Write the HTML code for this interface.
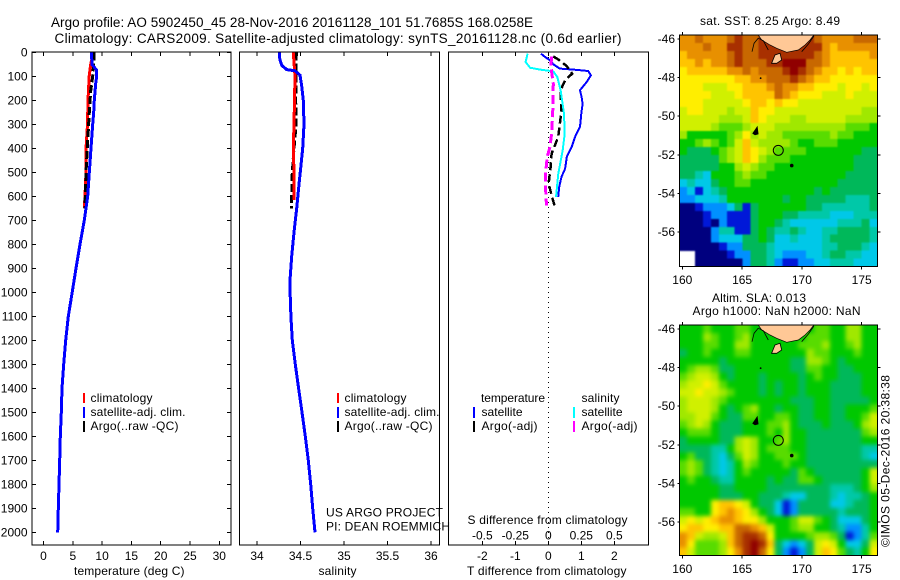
<!DOCTYPE html>
<html>
<head>
<meta charset="utf-8">
<title>Argo profile 5902450_45</title>
<style>
html,body{margin:0;padding:0;background:#fff;}
svg{display:block;}
text{font-family:"Liberation Sans",sans-serif;font-size:12px;fill:#000;}
.title{font-size:13.5px;}
.crisp{shape-rendering:crispEdges;}
</style>
</head>
<body>
<svg id="chart" width="900" height="580" viewBox="0 0 900 580" xmlns="http://www.w3.org/2000/svg">
  <defs>
    <filter id="soft-sst" filterUnits="userSpaceOnUse" x="650" y="0" width="250" height="300" color-interpolation-filters="sRGB"><feGaussianBlur stdDeviation="0.8"/></filter>
    <filter id="soft-sla" filterUnits="userSpaceOnUse" x="650" y="290" width="250" height="290" color-interpolation-filters="sRGB"><feGaussianBlur stdDeviation="2"/></filter>
    <clipPath id="clip-sst-map"><rect x="679.3" y="35" width="198" height="231.7"/></clipPath>
    <clipPath id="clip-sla-map"><rect x="679.3" y="325" width="198" height="230.7"/></clipPath>
  </defs>
  <rect x="0" y="0" width="900" height="580" fill="#fff"/>
  <text class="title" x="51" y="27" textLength="482">Argo profile: AO 5902450_45 28-Nov-2016 20161128_101 51.7685S 168.0258E</text>
  <text class="title" x="54.5" y="43" textLength="567">Climatology: CARS2009. Satellite-adjusted climatology: synTS_20161128.nc (0.6d earlier)</text>

  <g id="maps"></g>
  <g id="panels"></g>

  <text x="74" y="575" textLength="110.5">temperature (deg C)</text>
  <text x="318.5" y="575" textLength="38">salinity</text>
  <text x="467" y="575" textLength="159.5">T difference from climatology</text>
  <text x="467.5" y="524" textLength="160">S difference from climatology</text>

  <g>
    <rect class="crisp" x="83" y="393" width="2" height="10" fill="#ff0000"/>
    <text x="90.5" y="402" textLength="62">climatology</text>
    <rect class="crisp" x="83" y="407" width="2" height="11" fill="#0000ff"/>
    <text x="90.5" y="416" textLength="95">satellite-adj. clim.</text>
    <rect class="crisp" x="83" y="421" width="2" height="11" fill="#000"/>
    <text x="90.5" y="430" textLength="88">Argo(..raw -QC)</text>
  </g>
  <g>
    <rect class="crisp" x="337" y="393" width="2" height="10" fill="#ff0000"/>
    <text x="344.5" y="402" textLength="62">climatology</text>
    <rect class="crisp" x="337" y="407" width="2" height="11" fill="#0000ff"/>
    <text x="344.5" y="416" textLength="95">satellite-adj. clim.</text>
    <rect class="crisp" x="337" y="421" width="2" height="11" fill="#000"/>
    <text x="344.5" y="430" textLength="88">Argo(..raw -QC)</text>
  </g>
  <g>
    <text x="481" y="402" textLength="64">temperature</text>
    <text x="581.5" y="402" textLength="38">salinity</text>
    <rect class="crisp" x="473" y="407" width="2" height="11" fill="#0000ff"/>
    <text x="481.5" y="416" textLength="41">satellite</text>
    <rect class="crisp" x="473" y="421" width="2" height="11" fill="#000"/>
    <text x="481.5" y="430" textLength="56">Argo(-adj)</text>
    <rect class="crisp" x="573" y="407" width="2" height="11" fill="#00ffff"/>
    <text x="581.5" y="416" textLength="41">satellite</text>
    <rect class="crisp" x="573" y="421" width="2" height="11" fill="#ff00ff"/>
    <text x="581.5" y="430" textLength="56">Argo(-adj)</text>
  </g>
  <text x="326" y="516.5" textLength="117">US ARGO PROJECT</text>
  <text x="326" y="530.5" textLength="124">PI: DEAN ROEMMICH</text>

  <text x="770" y="25" text-anchor="middle" textLength="140">sat. SST: 8.25 Argo: 8.49</text>
  <text x="712" y="302" textLength="94">Altim. SLA: 0.013</text>
  <text x="692.5" y="315" textLength="168">Argo h1000: NaN h2000: NaN</text>
  <text transform="translate(889.5,547) rotate(-90)" x="0" y="0" textLength="172">©IMOS 05-Dec-2016 20:38:38</text>
</svg>
<script>
/* ---------- depth axis ---------- */
var depthTicks = [0,100,200,300,400,500,600,700,800,900,1000,1100,1200,1300,1400,1500,1600,1700,1800,1900,2000];

/* ---------- temperature panel ---------- */
var tempTicks = [0,5,10,15,20,25,30];
var tempClimDepth = [0,50,100,200,300,400,500,600,650];
var tempClim = [8.5,8.05,7.8,7.6,7.5,7.25,7.25,7.08,6.97];
var tempArgoDepth = [0,30,100,160,250,400,500,600,650];
var tempArgo = [8.6,8.6,8.4,8.05,7.82,7.48,7.25,7.14,7.05];
var tempSatDepth = [0,50,60,75,100,130,200,250,300,400,500,600,700,800,900,1000,1100,1200,1300,1400,1500,1600,1700,1800,1900,2000];
var tempSat = [8.22,8.25,8.6,9.08,9.08,8.9,8.67,8.56,8.39,8.1,7.82,7.54,6.97,6.23,5.55,4.9,4.23,3.79,3.45,3.16,3.04,2.87,2.76,2.64,2.53,2.42];

/* ---------- salinity panel ---------- */
var salTicks = [34,34.5,35,35.5,36];
var salClimDepth = [0,100,300,400,500,615];
var salClim = [34.417,34.437,34.425,34.417,34.425,34.425];
var salArgoDepth = [0,200,300,400,500,600,650];
var salArgo = [34.452,34.445,34.449,34.425,34.406,34.399,34.395];
var salSatDepth = [0,30,54,72,77,95,140,200,300,400,470,550,650,750,850,950,1000,1100,1200,1300,1400,1500,1600,1700,1800,1900,2000];
var salSat = [34.257,34.262,34.284,34.341,34.437,34.494,34.514,34.532,34.54,34.525,34.506,34.483,34.456,34.425,34.399,34.379,34.38,34.39,34.406,34.44,34.478,34.517,34.555,34.59,34.617,34.64,34.667];

/* ---------- difference panel ---------- */
var tDiffTicks = [-2,-1,0,1,2];
var sDiffTicks = [-0.5,-0.25,0,0.25,0.5];
var sDiffLabels = ['-0.5','-0.25','0','0.25','0.5'];
var tDiffSatDepth = [6,19,33,50,68,72,78,96,124,158,186,214,256,311,353,394,436,485,519,561,603];
var tDiffSat = [-0.22,-0.1,0.05,0.15,0.35,0.76,1.21,1.29,1.16,0.96,1.01,1.04,1,0.96,0.81,0.71,0.56,0.51,0.4,0.33,0.3];
var tDiffArgoDepth = [17,36,58,89,117,158,242,353,422,478,547,596,644];
var tDiffArgo = [0.15,0.37,0.56,0.72,0.51,0.37,0.4,0.3,0.1,0.07,0.01,0.1,0.2];
var sDiffSatDepth = [6,40,64,72,79,103,158,256,339,408,506,603];
var sDiffSat = [-0.157,-0.172,-0.139,-0.063,0.038,0.068,0.093,0.119,0.124,0.109,0.076,0.058];
var sDiffArgoDepth = [17,61,131,256,339,394,436,519,603,638];
var sDiffArgo = [0.025,0.02,0.038,0.033,0.025,0.013,-0.008,-0.023,-0.018,-0.013];

/* ---------- maps: colour level per grid cell, north to south; -1 is no data ---------- */
var lonTicks = [160,165,170,175];
var latTicks = [-46,-48,-50,-52,-54,-56];
var argoLon = 168.0258;
var argoLat = -51.7685;
var sstGrid = [
[12,12,13,12,12,12,13,14,13,13,14,14,14,14,14,14,14,13,12,12,12,12,13,13,13],
[12,12,12,13,12,12,14,14,13,13,14,14,14,14,14,14,14,14,12,11,12,12,12,12,12],
[11,12,12,12,12,12,13,14,13,13,14,14,14,14,14,14,14,13,12,11,11,11,11,11,12],
[11,11,12,11,12,12,13,14,13,13,13,14,14,15,15,15,13,13,12,11,11,11,11,11,11],
[10,11,11,11,11,11,12,12,13,12,13,13,13,14,15,14,13,12,11,11,10,11,10,11,11],
[10,10,10,10,10,10,10,11,11,12,12,13,13,13,14,13,12,11,11,10,10,10,10,10,10],
[10,10,10,9,9,9,10,10,11,11,11,12,13,12,12,11,11,10,10,10,9,10,10,9,10],
[10,10,10,10,9,9,9,10,11,11,11,11,13,12,11,10,10,10,9,9,9,10,9,9,9],
[10,10,10,9,9,9,9,9,10,11,11,10,11,10,10,9,9,9,9,9,9,9,9,9,9],
[9,10,10,9,9,9,8,9,9,11,10,10,9,9,9,9,9,9,9,9,9,9,9,8,8],
[9,9,9,9,9,8,8,8,9,11,10,9,9,9,8,8,9,9,9,9,9,8,8,8,8],
[9,9,9,9,8,7,7,7,8,9,9,9,8,8,8,8,8,8,8,8,8,7,7,7,6],
[8,6,6,6,6,6,7,8,10,8,9,8,8,7,7,7,7,7,7,8,7,7,6,6,6],
[6,6,7,8,7,6,7,9,11,9,8,8,8,8,7,6,6,7,7,7,6,6,6,6,6],
[6,5,5,5,6,7,8,9,11,10,9,8,7,7,7,7,6,6,6,6,6,6,6,5,5],
[5,5,5,5,5,7,8,9,11,10,8,7,7,7,6,6,6,6,6,6,6,6,5,5,5],
[5,5,5,5,5,6,6,8,9,8,7,7,6,6,6,6,6,6,6,6,6,6,5,5,5],
[5,5,4,3,6,6,6,7,8,7,7,6,6,6,6,6,6,6,6,6,6,5,5,5,5],
[3,4,3,3,5,6,6,7,7,6,6,6,6,6,6,6,6,6,6,6,5,5,5,5,5],
[2,3,1,3,4,5,6,6,6,6,6,6,6,6,6,6,6,5,6,5,5,5,5,5,5],
[2,2,3,3,3,4,6,6,6,6,6,6,6,5,6,6,5,5,5,5,5,4,4,4,5],
[0,0,1,2,2,2,3,5,1,5,6,6,6,6,6,6,5,5,4,4,4,4,4,4,5],
[0,0,0,1,2,2,1,1,1,5,6,6,6,5,5,4,4,4,4,3,3,3,4,4,4],
[0,0,0,1,0,2,1,1,1,5,6,6,5,4,3,3,3,3,3,3,4,4,4,5,3],
[0,0,0,0,2,4,4,1,1,5,6,5,4,4,5,4,3,3,4,4,5,5,5,5,4],
[0,0,0,0,2,3,3,3,5,5,6,5,3,3,4,3,3,3,4,5,5,5,5,5,4],
[0,0,0,0,0,1,2,2,5,5,5,4,3,3,3,3,3,3,4,4,5,5,5,4,3],
[-1,-1,0,0,0,0,1,2,2,5,5,4,3,2,2,2,3,3,4,5,5,4,4,3,3],
[-1,-1,0,0,0,0,0,0,2,5,5,4,2,1,1,2,2,3,3,4,4,4,3,3,3]
];
var slaGrid = [
[6,6,6,7,6,6,6,7,7,6,6,6,6,6,6,6,6,7,7,6,6,8,8,6,6],
[6,6,6,8,7,6,6,7,8,6,6,6,6,6,6,6,7,7,7,6,6,8,8,6,6],
[6,6,6,7,7,6,6,8,8,6,6,6,6,6,6,7,7,7,8,6,6,7,8,6,6],
[5,6,6,7,6,6,6,7,7,6,6,6,6,6,6,6,8,7,7,6,6,6,7,6,6],
[6,6,6,6,6,5,6,6,6,6,6,6,6,6,5,5,8,8,7,6,5,6,6,6,6],
[6,7,8,8,7,5,5,6,6,6,6,6,6,6,5,5,7,7,6,6,5,5,6,6,6],
[7,8,9,9,8,6,5,6,6,6,5,6,6,6,6,5,6,7,6,6,5,5,5,6,6],
[8,9,9,10,9,7,6,6,6,6,5,6,5,6,6,5,6,6,6,5,5,5,5,6,6],
[9,9,10,9,9,8,7,6,6,6,5,6,5,6,6,5,6,6,6,5,5,5,5,6,6],
[8,9,9,9,8,7,6,6,6,6,6,6,6,6,5,5,5,6,6,5,5,5,5,5,6],
[8,9,9,9,8,6,5,6,7,8,6,6,5,6,6,5,5,6,6,5,5,6,6,6,7],
[8,8,9,9,7,6,5,5,7,7,6,6,7,7,6,5,5,6,6,5,5,6,6,7,9],
[7,8,9,8,6,5,5,5,6,6,6,7,7,8,6,5,5,5,6,5,5,5,6,8,9],
[6,7,7,7,6,5,5,5,6,6,6,7,6,8,6,6,5,5,5,5,5,5,5,7,8],
[5,6,6,6,6,5,5,8,9,8,6,6,7,8,6,6,5,5,5,5,5,5,5,6,6],
[5,5,5,5,4,4,6,8,9,8,6,7,7,7,6,6,5,5,5,5,5,5,5,4,4],
[6,7,5,5,4,3,5,7,9,8,6,6,7,7,7,6,5,5,5,5,5,5,5,4,3],
[7,8,7,5,4,3,4,6,8,7,6,6,6,7,6,6,5,5,5,5,5,5,5,5,5],
[7,8,7,5,4,3,4,6,7,6,6,6,6,6,5,7,6,5,5,5,5,5,5,6,9],
[6,7,6,6,5,4,4,6,6,6,6,5,6,5,5,7,7,6,5,5,5,5,5,6,9],
[6,6,6,6,6,5,5,6,6,6,6,5,5,5,5,5,5,5,5,4,4,4,5,6,8],
[6,6,6,6,6,5,5,5,6,6,5,5,5,4,3,3,5,5,5,4,3,4,4,5,6],
[6,6,6,6,10,11,11,10,9,6,5,5,3,1,2,5,5,5,5,3,3,4,5,5,6],
[7,7,6,6,10,11,12,11,10,8,6,5,3,1,2,5,5,5,5,5,4,5,5,5,6],
[9,10,9,10,11,12,12,11,10,10,8,6,6,6,7,9,9,7,6,5,3,3,3,5,6],
[10,11,11,10,10,11,11,13,13,12,11,9,6,6,7,8,8,6,6,5,4,2,2,4,6],
[12,11,9,8,8,9,11,13,14,14,13,10,6,6,6,6,7,8,8,7,5,1,2,4,7],
[12,10,7,7,7,8,11,13,14,15,14,11,5,3,2,3,5,9,10,9,6,3,3,5,9],
[11,9,7,7,7,8,10,12,14,15,13,10,5,2,1,2,5,9,11,10,7,5,4,6,10]
];

/* coast outlines as lon / lat */
var mainlandLon = [166.35,166.64,167.33,167.89,168.73,169.7,170.26,170.68,171.01];
var mainlandLat = [-45.79,-46.05,-46.31,-46.48,-46.69,-46.57,-46.31,-46.05,-45.79];
var stewartLon = [167.47,167.75,168.17,168.31,167.89];
var stewartLat = [-47.26,-46.83,-46.74,-47.09,-47.26];
var fiordLon = [165.83,166.0,166.35,166.77,167.19];
var fiordLat = [-46.66,-46.22,-45.96,-46.09,-46.57];
var eastCoastLon = [169.98,170.54,171.0];
var eastCoastLat = [-46.66,-46.26,-45.85];
var aucklandLon = [165.89,166.27,166.35,166.08];
var aucklandLat = [-50.89,-50.54,-50.92,-50.97];
var islandLon = [169.15,166.55];
var islandLat = [-52.56,-48.03];

/* ---------- helpers ---------- */
var NS = 'http://www.w3.org/2000/svg';
var maps = document.getElementById('maps');
var panels = document.getElementById('panels');
var DEPTH_TOP = 52.3, DEPTH_PX = 0.24;
function depthY(d){ return DEPTH_TOP + d * DEPTH_PX; }
function linear(v0, p0, v1, p1){ return function(v){ return p0 + (v - v0) * (p1 - p0) / (v1 - v0); }; }
function make(tag, attrs, parent){
  var el = document.createElementNS(NS, tag);
  for (var k in attrs) el.setAttribute(k, attrs[k]);
  parent.appendChild(el);
  return el;
}
function addText(str, x, y, anchor, parent){
  var t = make('text', {x:x, y:y, 'text-anchor':anchor}, parent);
  t.textContent = str;
  return t;
}
function pathFrom(xs, ys, fx, fy){
  var s = '';
  for (var i = 0; i < xs.length; i++) s += (i ? 'L' : 'M') + fx(xs[i]).toFixed(1) + ' ' + fy(ys[i]).toFixed(1);
  return s;
}
function drawSeries(name, values, depths, fx, color, width, dash, parent){
  var attrs = {d:pathFrom(values, depths, fx, depthY), fill:'none', stroke:color, 'stroke-width':width, 'class':'crisp'};
  if (dash) attrs['stroke-dasharray'] = dash;
  var p = make('path', attrs, parent);
  
  
}
function drawFrame(name, x0, y0, x1, y1, parent){
  var r = make('rect', {x:x0, y:y0, width:x1 - x0, height:y1 - y0, fill:'none', stroke:'#000', 'stroke-width':1, 'class':'crisp'}, parent);
  
  
}
function drawXTicks(ticks, labels, fx, y0, y1, labelY, showLabels, parent){
  ticks.forEach(function(v, i){
    var px = fx(v);
    var topTick = make('line', {x1:px, x2:px, y1:y0, y2:y0 + 4, stroke:'#000', 'class':'crisp'}, parent);
    
    
    var botTick = make('line', {x1:px, x2:px, y1:y1, y2:y1 - 4, stroke:'#000', 'class':'crisp'}, parent);
    
    
    if (showLabels) {
      var t = addText(labels[i], px, labelY, 'middle', parent);
      
      
    }
  });
}

/* ---------- temperature panel ---------- */
var tempX = linear(0, 43.5, 30, 219.3);
var salX = linear(34, 257, 36, 431);
var tDiffX = linear(0, 548.3, 2, 614.3);
var sDiffX = linear(0, 548.3, 0.5, 614.3);
var AX_TOP = 52, AX_BOT = 545;

var tempPanel = make('g', {}, panels);


drawSeries('temperature-climatology-line', tempClim, tempClimDepth, tempX, '#ff0000', 3, null, tempPanel);
drawSeries('temperature-argo-line', tempArgo, tempArgoDepth, tempX, '#000000', 3, '8 3', tempPanel);
drawSeries('temperature-satellite-line', tempSat, tempSatDepth, tempX, '#0000ff', 3, null, tempPanel);
drawFrame('temperature-frame', 32, AX_TOP, 231, AX_BOT, tempPanel);
drawXTicks(tempTicks, tempTicks.map(String), tempX, AX_TOP, AX_BOT, 560, true, tempPanel);
depthTicks.forEach(function(d){
  var y = depthY(d);
  var left = make('line', {x1:32, x2:36, y1:y, y2:y, stroke:'#000', 'class':'crisp'}, tempPanel);
  
  
  var right = make('line', {x1:227, x2:231, y1:y, y2:y, stroke:'#000', 'class':'crisp'}, tempPanel);
  
  
  var t = addText(String(d), 27.5, y + 4, 'end', tempPanel);
  
  
});

/* ---------- salinity panel ---------- */
var salPanel = make('g', {}, panels);


drawSeries('salinity-argo-line', salArgo, salArgoDepth, salX, '#000000', 3, '8 3', salPanel);
drawSeries('salinity-climatology-line', salClim, salClimDepth, salX, '#ff0000', 3, null, salPanel);
drawSeries('salinity-satellite-line', salSat, salSatDepth, salX, '#0000ff', 3, null, salPanel);
drawFrame('salinity-frame', 239.5, AX_TOP, 439.5, AX_BOT, salPanel);
drawXTicks(salTicks, ['34','34.5','35','35.5','36'], salX, AX_TOP, AX_BOT, 560, true, salPanel);

/* ---------- difference panel ---------- */
var diffPanel = make('g', {}, panels);


var zeroLine = make('line', {x1:tDiffX(0), x2:tDiffX(0), y1:AX_TOP, y2:AX_BOT, stroke:'#000', 'stroke-width':1, 'stroke-dasharray':'1 4', 'class':'crisp'}, diffPanel);


drawSeries('t-difference-satellite-line', tDiffSat, tDiffSatDepth, tDiffX, '#0000ff', 2, null, diffPanel);
drawSeries('t-difference-argo-line', tDiffArgo, tDiffArgoDepth, tDiffX, '#000000', 2.5, '8 4', diffPanel);
drawSeries('s-difference-satellite-line', sDiffSat, sDiffSatDepth, sDiffX, '#00ffff', 2, null, diffPanel);
drawSeries('s-difference-argo-line', sDiffArgo, sDiffArgoDepth, sDiffX, '#ff00ff', 3, '9 4', diffPanel);
drawFrame('difference-frame', 448.5, AX_TOP, 648.5, AX_BOT, diffPanel);
drawXTicks(tDiffTicks, tDiffTicks.map(String), tDiffX, AX_TOP, AX_BOT, 560, true, diffPanel);
sDiffTicks.forEach(function(v, i){
  var t = addText(sDiffLabels[i], sDiffX(v), 539.5, 'middle', diffPanel);
  
  
});

/* ---------- maps ---------- */
var palette = ['#00007f','#0018d8','#0090ff','#00c8e8','#00c8a8','#00b85a','#00c800','#58dc00','#a0e800','#d0f000','#ffee00','#ffc400','#e89000','#c86800','#a83000','#900000'];
function drawMap(name, grid, top, bottom, clipId, filterId, parent){
  var FX0 = 679.3, FX1 = 877.3, PAD = 12;
  var lonX = linear(160, 682.3, 175, 861.7);
  var latY = linear(-46, top + 4, -56, top + 197);
  var g = make('g', {}, parent);
  
  
  var clip = make('g', {'clip-path':'url(#' + clipId + ')'}, g);
  
  
  var cells = make('g', {filter:'url(#' + filterId + ')'}, clip);
  
  
  var rows = grid.length, cols = grid[0].length;
  var cw = (FX1 - FX0) / cols, ch = (bottom - top) / rows;
  grid.forEach(function(row, r){
    row.forEach(function(level, c){
      if (level < 0) return;
      var x0 = FX0 + c * cw - (c === 0 ? PAD : 0);
      var x1 = FX0 + (c + 1) * cw + (c === cols - 1 ? PAD : 0.4);
      var y0 = top + r * ch - (r === 0 ? PAD : 0);
      var y1 = top + (r + 1) * ch + (r === rows - 1 ? PAD : 0.4);
      var cell = make('rect', {x:x0.toFixed(2), y:y0.toFixed(2), width:(x1 - x0).toFixed(2), height:(y1 - y0).toFixed(2), fill:palette[level], 'class':'crisp'}, cells);
      
      
    });
  });
  var land = make('path', {d:pathFrom(mainlandLon, mainlandLat, lonX, latY) + 'Z', fill:'#ffc896', stroke:'#000', 'stroke-width':0.7}, g);
  
  
  var stewart = make('path', {d:pathFrom(stewartLon, stewartLat, lonX, latY) + 'Z', fill:'#ffc896', stroke:'#000', 'stroke-width':0.8}, g);
  
  
  var fiord = make('path', {d:pathFrom(fiordLon, fiordLat, lonX, latY), fill:'none', stroke:'#000', 'stroke-width':0.8}, g);
  
  
  var east = make('path', {d:pathFrom(eastCoastLon, eastCoastLat, lonX, latY), fill:'none', stroke:'#000', 'stroke-width':0.8}, g);
  
  
  var auck = make('path', {d:pathFrom(aucklandLon, aucklandLat, lonX, latY) + 'Z', fill:'#000', stroke:'#000', 'stroke-width':0.6}, g);
  
  
  islandLon.forEach(function(lon, i){
    var dot = make('circle', {cx:lonX(lon), cy:latY(islandLat[i]), r:i === 0 ? 1.8 : 0.9, fill:'#000'}, g);
    
    
  });
  var marker = make('circle', {cx:lonX(argoLon), cy:latY(argoLat), r:5, fill:'none', stroke:'#000', 'stroke-width':1}, g);
  
  
  drawFrame(name + '-frame', FX0, top, FX1, bottom, g);
  lonTicks.forEach(function(lon){
    var x = lonX(lon);
    var a = make('line', {x1:x, x2:x, y1:top, y2:top - 3, stroke:'#000', 'class':'crisp'}, g);
    
    
    var b = make('line', {x1:x, x2:x, y1:bottom, y2:bottom + 3, stroke:'#000', 'class':'crisp'}, g);
    
    
    var t = addText(String(lon), x, bottom + 17.5, 'middle', g);
    
    
  });
  latTicks.forEach(function(lat){
    var y = latY(lat);
    var a = make('line', {x1:FX1, x2:FX1 + 3, y1:y, y2:y, stroke:'#000', 'class':'crisp'}, g);
    
    
    var b = make('line', {x1:FX0, x2:FX0 - 2, y1:y, y2:y, stroke:'#000', 'class':'crisp'}, g);
    
    
    var t = addText(String(lat), 675, y + 4, 'end', g);
    
    
  });
}
drawMap('sst-map', sstGrid, 35, 266.7, 'clip-sst-map', 'soft-sst', maps);
drawMap('sla-map', slaGrid, 325, 555.7, 'clip-sla-map', 'soft-sla', maps);
</script>
</body>
</html>
